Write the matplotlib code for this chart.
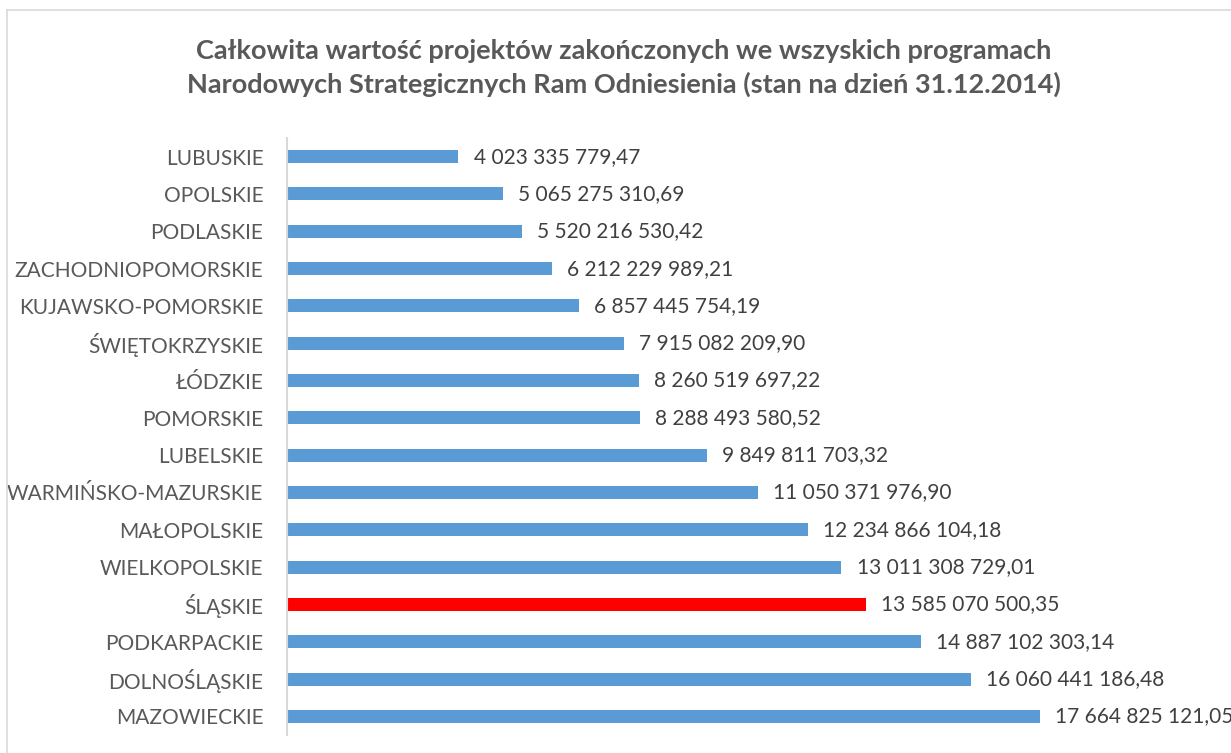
import matplotlib.pyplot as plt
from matplotlib.lines import Line2D

# DATA
regions = ['LUBUSKIE', 'OPOLSKIE', 'PODLASKIE', 'ZACHODNIOPOMORSKIE', 'KUJAWSKO-POMORSKIE',
           'ŚWIĘTOKRZYSKIE', 'ŁÓDZKIE', 'POMORSKIE', 'LUBELSKIE', 'WARMIŃSKO-MAZURSKIE',
           'MAŁOPOLSKIE', 'WIELKOPOLSKIE', 'ŚLĄSKIE', 'PODKARPACKIE', 'DOLNOŚLĄSKIE', 'MAZOWIECKIE']
values = [4023335779.47, 5065275310.69, 5520216530.42, 6212229989.21, 6857445754.19,
          7915082209.90, 8260519697.22, 8288493580.52, 9849811703.32, 11050371976.90,
          12234866104.18, 13011308729.01, 13585070500.35, 14887102303.14, 16060441186.48,
          17664825121.05]
highlight = 'ŚLĄSKIE'
title = ('Całkowita wartość projektów zakończonych we wszyskich programach\n'
         'Narodowych Strategicznych Ram Odniesienia (stan na dzień 31.12.2014)')


def pl_format(v):
    whole, frac = f'{v:.2f}'.split('.')
    whole = f'{int(whole):,}'.replace(',', ' ')
    return whole + ',' + frac


plt.rcParams['font.family'] = ['Lato', 'DejaVu Sans']

fig = plt.figure(figsize=(12.31, 7.53), dpi=100)
ax = fig.add_axes([287 / 1231, 1 - 735 / 753, (1231 - 287) / 1231, (735 - 138) / 753])

colors = ['#FF0000' if r == highlight else '#5B9BD5' for r in regions]
ypos = range(len(regions))
ax.barh(ypos, values, height=0.35, color=colors)

for y, v in zip(ypos, values):
    ax.annotate(pl_format(v), (v, y), xytext=(11, 0), textcoords='offset points',
                va='center', ha='left', fontsize=15, color='#404040',
                annotation_clip=False)

ax.set_yticks(list(ypos))
ax.set_yticklabels(regions, fontsize=15, color='#595959')
ax.tick_params(axis='y', length=0, pad=17)
ax.set_xticks([])
ax.set_xlim(0, 944 / 42.6 * 1e9)
ax.set_ylim(15.5, -0.5)

for side in ['top', 'right', 'bottom']:
    ax.spines[side].set_visible(False)
ax.spines['left'].set_color('#d9d9d9')
ax.spines['left'].set_linewidth(1.5)

fig.text(624 / 1231, 1 - 68 / 753, title, ha='center', va='center', fontsize=19.5,
         fontweight='bold', color='#595959', linespacing=1.42)

# chart area border
fig.add_artist(Line2D([7 / 1231, 1.0], [1 - 10 / 753] * 2, color='#d9d9d9', lw=1.2))
fig.add_artist(Line2D([7 / 1231] * 2, [0, 1 - 10 / 753], color='#d9d9d9', lw=1.2))

fig.savefig('out.png', dpi=100)
